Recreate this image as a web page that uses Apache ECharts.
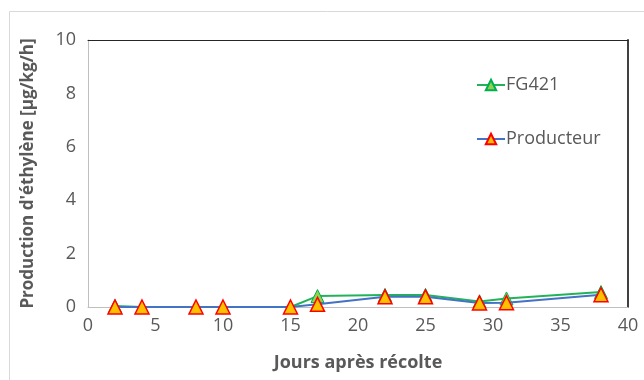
<!DOCTYPE html>
<html><head><meta charset="utf-8">
<script src="https://cdn.jsdelivr.net/npm/echarts@6/dist/echarts.min.js"></script>
<style>html,body{margin:0;padding:0;background:#fff}#c{width:644px;height:380px}</style>
</head><body><div id="c"></div>
<script>
const days = [2, 4, 8, 10, 15, 17, 22, 25, 29, 31, 38];
const fg421 = [0.04, 0, 0, 0, 0, 0.41, 0.45, 0.45, 0.21, 0.32, 0.56];
const producteur = [0, 0, 0, 0, 0, 0.1, 0.38, 0.38, 0.15, 0.16, 0.46];
const xTicks = [0, 5, 10, 15, 20, 25, 30, 35, 40];
const yTicks = [0, 2, 4, 6, 8, 10];

const font = '"Open Sans", "Liberation Sans", sans-serif';
const chart = echarts.init(document.getElementById('c'), null, {renderer: 'canvas'});
chart.setOption({
  animation: false,
  textStyle: {fontFamily: font},
  graphic: [{
    type: 'rect', left: 9, top: 11, z: -10,
    shape: {width: 700, height: 400},
    style: {fill: '#fff', stroke: '#D9D9D9', lineWidth: 1}
  }],
  grid: {left: 88, right: 16, top: 40, bottom: 73},
  legend: {
    orient: 'vertical', left: 471, top: 71, itemGap: 36,
    itemWidth: 28, itemHeight: 13,
    textStyle: {fontSize: 18, color: '#595959', fontFamily: font, padding: [0, 0, 0, -4]},
    data: ['FG421', 'Producteur']
  },
  xAxis: [{
    type: 'value', min: xTicks[0], max: xTicks[xTicks.length - 1], interval: 5,
    name: 'Jours après récolte', nameLocation: 'middle', nameGap: 47,
    nameTextStyle: {fontSize: 18, fontWeight: 'bold', color: '#595959', fontFamily: font},
    axisLine: {onZero: false, lineStyle: {color: '#BFBFBF'}},
    axisTick: {show: false},
    axisLabel: {fontSize: 18, color: '#595959', margin: 10, fontFamily: font},
    splitLine: {show: false}
  }, {
    type: 'value', position: 'top', min: 0, max: 40,
    axisLine: {show: true, onZero: false, lineStyle: {color: '#262626', width: 1}},
    axisTick: {show: false}, axisLabel: {show: false}, splitLine: {show: false}
  }],
  yAxis: [{
    type: 'value', min: yTicks[0], max: yTicks[yTicks.length - 1], interval: 2,
    name: 'Production d\'éthylène [µg/kg/h]', nameLocation: 'middle', nameGap: 51,
    nameTextStyle: {fontSize: 17, fontWeight: 'bold', color: '#595959', fontFamily: font},
    axisLine: {show: true, onZero: false, lineStyle: {color: '#BFBFBF'}},
    axisTick: {show: false},
    axisLabel: {fontSize: 18, color: '#595959', margin: 12, fontFamily: font},
    splitLine: {show: false}
  }, {
    type: 'value', position: 'right', min: 0, max: 10,
    axisLine: {show: true, onZero: false, lineStyle: {color: '#404040', width: 2}},
    axisTick: {show: false}, axisLabel: {show: false}, splitLine: {show: false}
  }],
  series: [{
    name: 'FG421', type: 'line',
    data: days.map((d, i) => [d, fg421[i]]),
    symbol: 'triangle', symbolSize: 13,
    lineStyle: {color: '#22B35A', width: 2},
    itemStyle: {color: '#92D050', borderColor: '#00B050', borderWidth: 1},
    z: 2
  }, {
    name: 'Producteur', type: 'line',
    data: days.map((d, i) => [d, producteur[i]]),
    symbol: 'triangle', symbolSize: 14,
    lineStyle: {color: '#4472C4', width: 2},
    itemStyle: {color: '#FFC000', borderColor: '#FF0000', borderWidth: 1.5},
    z: 3
  }]
});
</script></body></html>
